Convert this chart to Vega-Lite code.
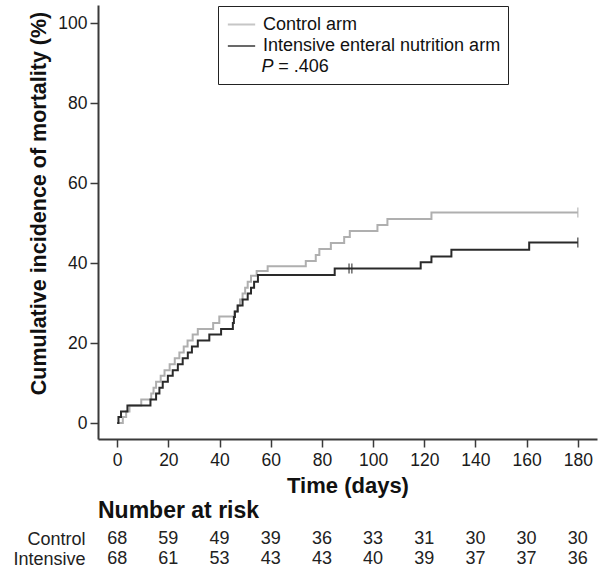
{
  "$schema": "https://vega.github.io/schema/vega-lite/v6.json",
  "padding": {"left": 12, "top": 5, "right": 7, "bottom": 5},
  "background": "white",
  "config": {
    "font": "Liberation Sans",
    "view": {"stroke": null},
    "axis": {
      "grid": false,
      "domainColor": "#3a3a3a",
      "domainWidth": 2,
      "tickColor": "#3a3a3a",
      "tickWidth": 1.5,
      "tickSize": 8,
      "labelColor": "#1a1a1a",
      "labelFontSize": 17.5,
      "titleColor": "#111111",
      "titleFontSize": 22,
      "titleFontWeight": "bold"
    }
  },
  "datasets": {
    "curves": [
      {"arm": "Control arm", "day": 0, "value": 0},
      {"arm": "Control arm", "day": 2.2, "value": 1.5},
      {"arm": "Control arm", "day": 3.5, "value": 2.9},
      {"arm": "Control arm", "day": 4.8, "value": 4.4},
      {"arm": "Control arm", "day": 9.4, "value": 5.9},
      {"arm": "Control arm", "day": 13.3, "value": 7.4},
      {"arm": "Control arm", "day": 14.2, "value": 8.8},
      {"arm": "Control arm", "day": 15.2, "value": 10.3},
      {"arm": "Control arm", "day": 17, "value": 11.8},
      {"arm": "Control arm", "day": 18.5, "value": 13.2},
      {"arm": "Control arm", "day": 20.5, "value": 14.7},
      {"arm": "Control arm", "day": 22.5, "value": 16.2},
      {"arm": "Control arm", "day": 24.3, "value": 17.6},
      {"arm": "Control arm", "day": 26, "value": 19.1},
      {"arm": "Control arm", "day": 27.5, "value": 20.6},
      {"arm": "Control arm", "day": 29.5, "value": 22.1},
      {"arm": "Control arm", "day": 31.5, "value": 23.5},
      {"arm": "Control arm", "day": 37.5, "value": 25.0},
      {"arm": "Control arm", "day": 39.9, "value": 26.6},
      {"arm": "Control arm", "day": 45.8, "value": 27.9},
      {"arm": "Control arm", "day": 47, "value": 29.4},
      {"arm": "Control arm", "day": 48, "value": 30.9},
      {"arm": "Control arm", "day": 49, "value": 32.4},
      {"arm": "Control arm", "day": 50, "value": 33.8},
      {"arm": "Control arm", "day": 51, "value": 35.3},
      {"arm": "Control arm", "day": 52.3, "value": 36.8},
      {"arm": "Control arm", "day": 54.5, "value": 38.0},
      {"arm": "Control arm", "day": 58.8, "value": 39.2},
      {"arm": "Control arm", "day": 73.7, "value": 40.5},
      {"arm": "Control arm", "day": 77.6, "value": 42.0},
      {"arm": "Control arm", "day": 79, "value": 43.5},
      {"arm": "Control arm", "day": 83.5, "value": 45.0},
      {"arm": "Control arm", "day": 88.7, "value": 46.5},
      {"arm": "Control arm", "day": 90.9, "value": 48.0},
      {"arm": "Control arm", "day": 101.7, "value": 49.5},
      {"arm": "Control arm", "day": 105.6, "value": 51.0},
      {"arm": "Control arm", "day": 122.8, "value": 52.6},
      {"arm": "Control arm", "day": 180, "value": 52.6},
      {"arm": "Intensive enteral nutrition arm", "day": 0, "value": 0},
      {"arm": "Intensive enteral nutrition arm", "day": 0.5, "value": 1.5},
      {"arm": "Intensive enteral nutrition arm", "day": 1.5, "value": 2.9},
      {"arm": "Intensive enteral nutrition arm", "day": 4, "value": 4.4},
      {"arm": "Intensive enteral nutrition arm", "day": 13, "value": 5.9},
      {"arm": "Intensive enteral nutrition arm", "day": 15.2, "value": 7.4},
      {"arm": "Intensive enteral nutrition arm", "day": 16.5, "value": 8.8},
      {"arm": "Intensive enteral nutrition arm", "day": 17.8, "value": 10.3},
      {"arm": "Intensive enteral nutrition arm", "day": 19.8, "value": 11.8},
      {"arm": "Intensive enteral nutrition arm", "day": 21.7, "value": 13.2},
      {"arm": "Intensive enteral nutrition arm", "day": 23.7, "value": 14.7},
      {"arm": "Intensive enteral nutrition arm", "day": 25.6, "value": 16.2},
      {"arm": "Intensive enteral nutrition arm", "day": 27.6, "value": 17.6},
      {"arm": "Intensive enteral nutrition arm", "day": 29.2, "value": 19.1},
      {"arm": "Intensive enteral nutrition arm", "day": 31.5, "value": 20.6},
      {"arm": "Intensive enteral nutrition arm", "day": 36, "value": 22.1},
      {"arm": "Intensive enteral nutrition arm", "day": 40.6, "value": 23.5},
      {"arm": "Intensive enteral nutrition arm", "day": 45.2, "value": 25.0},
      {"arm": "Intensive enteral nutrition arm", "day": 45.6, "value": 26.5},
      {"arm": "Intensive enteral nutrition arm", "day": 46.0, "value": 27.9},
      {"arm": "Intensive enteral nutrition arm", "day": 47.1, "value": 29.4},
      {"arm": "Intensive enteral nutrition arm", "day": 49, "value": 30.9},
      {"arm": "Intensive enteral nutrition arm", "day": 51, "value": 32.4},
      {"arm": "Intensive enteral nutrition arm", "day": 52.3, "value": 33.8},
      {"arm": "Intensive enteral nutrition arm", "day": 53.5, "value": 35.3},
      {"arm": "Intensive enteral nutrition arm", "day": 55, "value": 37.0},
      {"arm": "Intensive enteral nutrition arm", "day": 85, "value": 38.6},
      {"arm": "Intensive enteral nutrition arm", "day": 118.6, "value": 40.2},
      {"arm": "Intensive enteral nutrition arm", "day": 122.8, "value": 41.6},
      {"arm": "Intensive enteral nutrition arm", "day": 130.6, "value": 43.3},
      {"arm": "Intensive enteral nutrition arm", "day": 161, "value": 45.1},
      {"arm": "Intensive enteral nutrition arm", "day": 180, "value": 45.1}
    ],
    "censor": [
      {"arm": "Intensive enteral nutrition arm", "day": 90.6, "value": 38.6},
      {"arm": "Intensive enteral nutrition arm", "day": 91.7, "value": 38.6},
      {"arm": "Intensive enteral nutrition arm", "day": 180, "value": 45.1},
      {"arm": "Control arm", "day": 180, "value": 52.6}
    ],
    "risk": [
      {"arm": "Control", "day": 0, "n": 68},
      {"arm": "Control", "day": 20, "n": 59},
      {"arm": "Control", "day": 40, "n": 49},
      {"arm": "Control", "day": 60, "n": 39},
      {"arm": "Control", "day": 80, "n": 36},
      {"arm": "Control", "day": 100, "n": 33},
      {"arm": "Control", "day": 120, "n": 31},
      {"arm": "Control", "day": 140, "n": 30},
      {"arm": "Control", "day": 160, "n": 30},
      {"arm": "Control", "day": 180, "n": 30},
      {"arm": "Intensive", "day": 0, "n": 68},
      {"arm": "Intensive", "day": 20, "n": 61},
      {"arm": "Intensive", "day": 40, "n": 53},
      {"arm": "Intensive", "day": 60, "n": 43},
      {"arm": "Intensive", "day": 80, "n": 43},
      {"arm": "Intensive", "day": 100, "n": 40},
      {"arm": "Intensive", "day": 120, "n": 39},
      {"arm": "Intensive", "day": 140, "n": 37},
      {"arm": "Intensive", "day": 160, "n": 37},
      {"arm": "Intensive", "day": 180, "n": 36}
    ]
  },
  "spacing": 3,
  "vconcat": [
    {
      "width": 499,
      "height": 434,
      "layer": [
        {
          "data": {"name": "curves"},
          "mark": {"type": "line", "interpolate": "step-after", "strokeWidth": 2},
          "encoding": {
            "x": {
              "field": "day", "type": "quantitative",
              "scale": {"domain": [-7.5, 187.5], "nice": false, "zero": false},
              "axis": {"values": [0, 20, 40, 60, 80, 100, 120, 140, 160, 180], "title": "Time (days)", "labelPadding": 4, "titlePadding": 7}
            },
            "y": {
              "field": "value", "type": "quantitative",
              "scale": {"domain": [-4, 104.5], "nice": false, "zero": false},
              "axis": {"values": [0, 20, 40, 60, 80, 100], "title": "Cumulative incidence of mortality (%)", "titleFontSize": 21.5, "titleY": 198, "labelPadding": 3, "titlePadding": 7}
            },
            "color": {
              "field": "arm", "type": "nominal",
              "scale": {
                "domain": ["Control arm", "Intensive enteral nutrition arm", "P = .406"],
                "range": ["#afafaf", "#2a2a2a", "rgba(0,0,0,0)"]
              },
              "legend": {
                "orient": "none",
                "legendX": 120,
                "legendY": 1,
                "title": null,
                "symbolType": "M-1.3,0H1.3",
                "symbolSize": 441,
                "symbolStrokeWidth": 2,
                "symbolOffset": 5,
                "labelFontSize": 18,
                "labelOffset": 10,
                "labelColor": "#111111",
                "labelLimit": 400,
                "rowPadding": 0.5,
                "padding": 7,
                "strokeColor": "#222222",
                "labelExpr": "datum.label == 'P = .406' ? '\u200b' : datum.label"
              }
            }
          }
        },
        {
          "data": {"name": "censor"},
          "mark": {"type": "tick", "orient": "vertical", "thickness": 1.5, "size": 10},
          "encoding": {
            "x": {"field": "day", "type": "quantitative"},
            "y": {"field": "value", "type": "quantitative"},
            "color": {"field": "arm", "type": "nominal"}
          }
        },
        {
          "data": {"values": [{}]},
          "mark": {"type": "text", "text": "P", "fontStyle": "italic", "fontSize": 18, "align": "left", "baseline": "middle", "color": "#111111"},
          "encoding": {
            "x": {"datum": 56.4},
            "y": {"datum": 89}
          }
        },
        {
          "data": {"values": [{}]},
          "mark": {"type": "text", "text": "= .406", "fontSize": 18, "align": "left", "baseline": "middle", "color": "#111111"},
          "encoding": {
            "x": {"datum": 62.9},
            "y": {"datum": 89}
          }
        }
      ]
    },
    {
      "width": 499,
      "height": 40,
      "data": {"name": "risk"},
      "title": {"text": "Number at risk", "anchor": "start", "frame": "group", "fontSize": 23, "fontWeight": "bold", "offset": 6, "color": "#111111"},
      "mark": {"type": "text", "fontSize": 18, "color": "#222222"},
      "encoding": {
        "x": {
          "field": "day", "type": "quantitative",
          "scale": {"domain": [-7.5, 187.5], "nice": false, "zero": false},
          "axis": null
        },
        "y": {
          "field": "arm", "type": "nominal",
          "scale": {"domain": ["Control", "Intensive"]},
          "axis": {"title": null, "domain": false, "ticks": false, "labelPadding": 13, "labelFontSize": 18, "labelColor": "#222222"}
        },
        "text": {"field": "n", "type": "quantitative"}
      }
    }
  ]
}
